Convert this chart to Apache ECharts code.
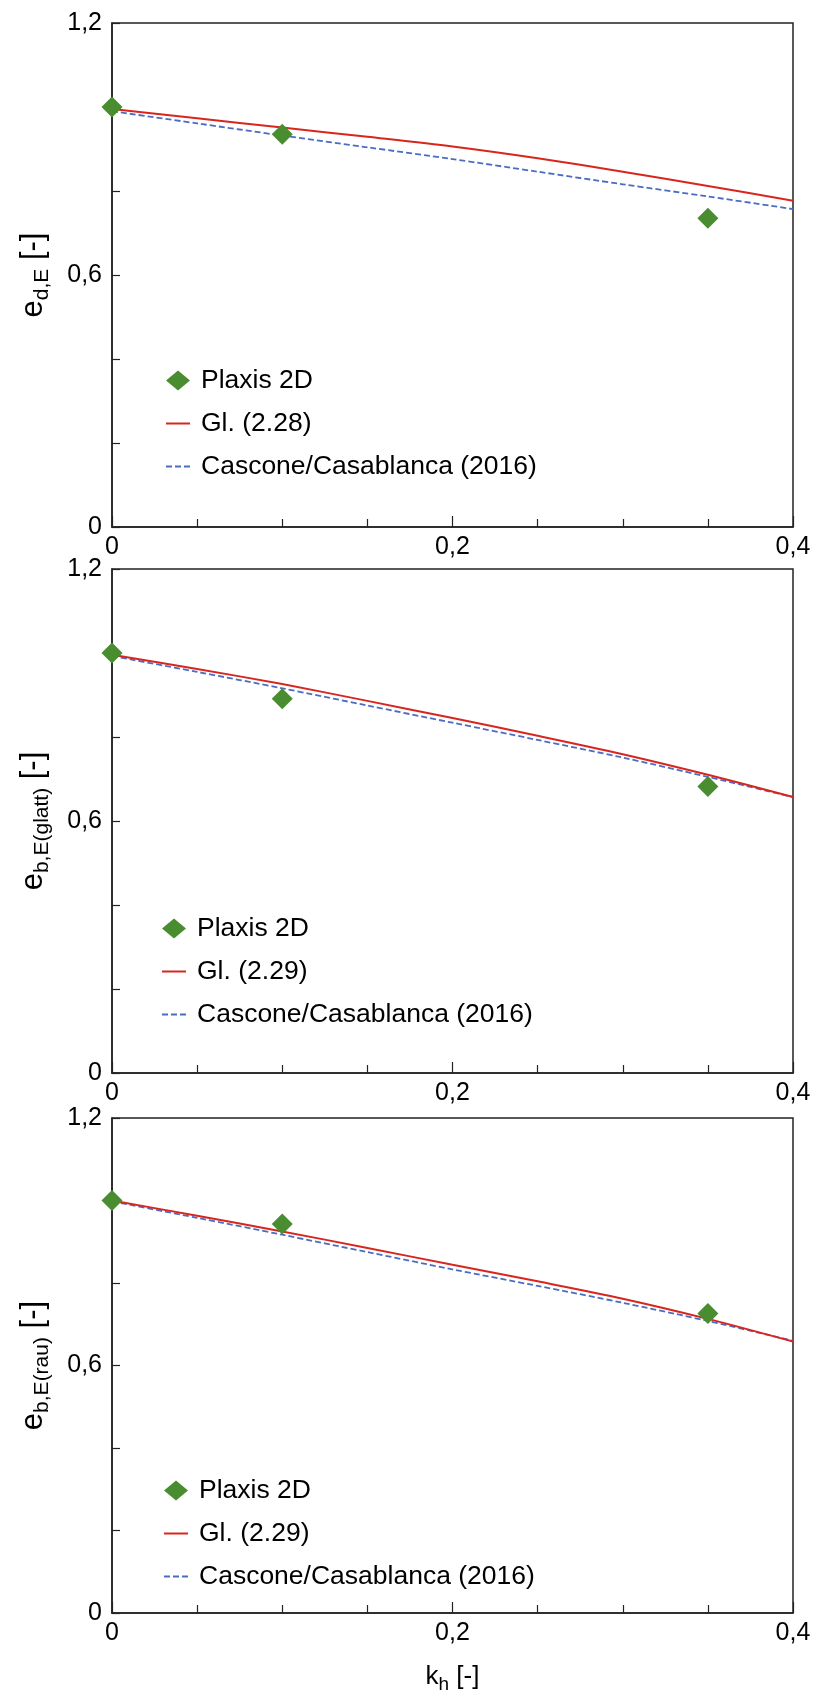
<!DOCTYPE html>
<html>
<head>
<meta charset="utf-8">
<script src="https://cdn.jsdelivr.net/npm/echarts@6/dist/echarts.min.js"></script>
<style>
  html, body { margin: 0; padding: 0; background: #fff; }
  #main { width: 815px; height: 1695px; }
</style>
</head>
<body>
<div id="main"></div>
<script>
// k_h values of the curves and of the Plaxis points
var khCurve = [0, 0.05, 0.1, 0.15, 0.2, 0.25, 0.3, 0.35, 0.4];
var khPlaxis = [0, 0.1, 0.35];

// e_d,E
var plaxisD = [1.0, 0.935, 0.735];
var glD = [0.995, 0.973, 0.951, 0.929, 0.906, 0.878, 0.846, 0.812, 0.777];
var cascD = [0.99, 0.961, 0.932, 0.904, 0.876, 0.846, 0.816, 0.787, 0.757];

// e_b,E(glatt)
var plaxisGlatt = [1.0, 0.891, 0.682];
var glGlatt = [0.996, 0.962, 0.926, 0.886, 0.845, 0.803, 0.759, 0.71, 0.657];
var cascGlatt = [0.993, 0.955, 0.916, 0.875, 0.834, 0.793, 0.751, 0.705, 0.657];

// e_b,E(rau)
var plaxisRau = [1.0, 0.943, 0.726];
var glRau = [1.0, 0.963, 0.925, 0.885, 0.844, 0.804, 0.762, 0.713, 0.658];
var cascRau = [0.998, 0.958, 0.917, 0.875, 0.833, 0.793, 0.752, 0.708, 0.66];

var xTicks = [0, 0.2, 0.4];
var yTicks = [0, 0.6, 1.2];

var eqNames = ['Gl. (2.28)', 'Gl. (2.29)', 'Gl. (2.29)'];
var ySubs = ['d,E', 'b,E(glatt)', 'b,E(rau)'];

var FONT = 'Liberation Sans';
var RED = '#d8261e';
var BLUE = '#4a6cc4';
var GREEN = '#4a8c30';

function pairs(xs, ys) {
	var out = [];
	for (var i = 0; i < xs.length; i++) {
		out.push([xs[i], ys[i]]);
	}
	return out;
}

function comma(v) {
	return String(Math.round(v * 100) / 100).replace('.', ',');
}

var panels = [
	{ plaxis: plaxisD, gl: glD, casc: cascD },
	{ plaxis: plaxisGlatt, gl: glGlatt, casc: cascGlatt },
	{ plaxis: plaxisRau, gl: glRau, casc: cascRau }
];
var gridTops = [23, 569, 1118];
var legendTops = [362, 910, 1472];
var legendLefts = [160, 156, 158];

var grids = [], xAxes = [], yAxes = [], series = [], legends = [];

for (var p = 0; p < 3; p++) {
	grids.push({
		left: 112, width: 681, top: gridTops[p], height: 504,
		show: true, borderColor: '#222', borderWidth: 1.5, backgroundColor: 'transparent'
	});
	var xAx = {
		type: 'value', gridIndex: p,
		min: xTicks[0], max: xTicks[xTicks.length - 1], interval: xTicks[1] - xTicks[0],
		axisLine: { show: true, onZero: false, lineStyle: { color: '#222', width: 1.5 } },
		axisTick: { show: true, inside: true, length: 11, lineStyle: { color: '#222', width: 1.2 } },
		minorTick: { show: true, splitNumber: 4, length: 8, lineStyle: { color: '#222', width: 1.2 } },
		splitLine: { show: false },
		axisLabel: { margin: 8, color: '#000', fontSize: 25, fontFamily: FONT, formatter: comma }
	};
	if (p == 2) {
		xAx.name = '{k|k}{h|h}{k| [-]}';
		xAx.nameLocation = 'middle';
		xAx.nameGap = 51;
		xAx.nameTextStyle = {
			color: '#000', fontFamily: FONT,
			rich: {
				k: { fontSize: 26, lineHeight: 26, verticalAlign: 'top', fontFamily: FONT, color: '#000' },
				h: { fontSize: 19, lineHeight: 19, padding: [11, 0, 0, 0], verticalAlign: 'top', fontFamily: FONT, color: '#000' }
			}
		};
	}
	xAxes.push(xAx);
	yAxes.push({
		type: 'value', gridIndex: p,
		min: yTicks[0], max: yTicks[yTicks.length - 1], interval: yTicks[1] - yTicks[0],
		axisLine: { show: true, lineStyle: { color: '#222', width: 1.5 } },
		axisTick: { show: true, inside: true, length: 8, lineStyle: { color: '#222', width: 1.2 } },
		minorTick: { show: true, splitNumber: 3, length: 8, lineStyle: { color: '#222', width: 1.2 } },
		splitLine: { show: false },
		axisLabel: { margin: 10, color: '#000', fontSize: 25, fontFamily: FONT, formatter: comma },
		name: '{e|e}{s|' + ySubs[p] + '}{e| [-]}',
		nameLocation: 'middle',
		nameGap: 64,
		nameRotate: 90,
		nameTextStyle: {
			color: '#000', fontFamily: FONT,
			rich: {
				e: { fontSize: 31, lineHeight: 30, verticalAlign: 'top', fontFamily: FONT, color: '#000' },
				s: { fontSize: 21, lineHeight: 21, padding: [14, 0, 0, 0], verticalAlign: 'top', fontFamily: FONT, color: '#000' }
			}
		}
	});

	series.push({
		name: 'Plaxis 2D', type: 'scatter', xAxisIndex: p, yAxisIndex: p,
		symbol: 'diamond', symbolSize: 21, z: 5,
		itemStyle: { color: GREEN, opacity: 1 },
		data: pairs(khPlaxis, panels[p].plaxis)
	});
	series.push({
		name: eqNames[p], type: 'line', xAxisIndex: p, yAxisIndex: p,
		showSymbol: false, symbol: 'none', smooth: 0.3, z: 3,
		lineStyle: { color: RED, width: 2 }, itemStyle: { color: RED },
		data: pairs(khCurve, panels[p].gl)
	});
	series.push({
		name: 'Cascone/Casablanca (2016)', type: 'line', xAxisIndex: p, yAxisIndex: p,
		showSymbol: false, symbol: 'none', smooth: 0.3, z: 2,
		lineStyle: { color: BLUE, width: 1.8, type: [6, 3] }, itemStyle: { color: BLUE },
		data: pairs(khCurve, panels[p].casc)
	});

	legends.push({
		orient: 'vertical', left: legendLefts[p], top: legendTops[p],
		itemWidth: 24, itemHeight: 20, itemGap: 16,
		selectedMode: false,
		textStyle: { color: '#000', fontSize: 26.5, fontFamily: FONT, lineHeight: 26, padding: [0, 0, 0, 6] },
		data: [
			{ name: 'Plaxis 2D', icon: 'diamond' },
			// hide the circle that a line series puts in its legend icon
			{ name: eqNames[p], itemStyle: { opacity: 0, borderWidth: 0 } },
			{ name: 'Cascone/Casablanca (2016)', itemStyle: { opacity: 0, borderWidth: 0 } }
		]
	});
}

var myChart = echarts.init(document.getElementById('main'), null, { renderer: 'canvas' });
myChart.setOption({
	animation: false,
	backgroundColor: '#fff',
	grid: grids,
	xAxis: xAxes,
	yAxis: yAxes,
	legend: legends,
	series: series
});
</script>
</body>
</html>
